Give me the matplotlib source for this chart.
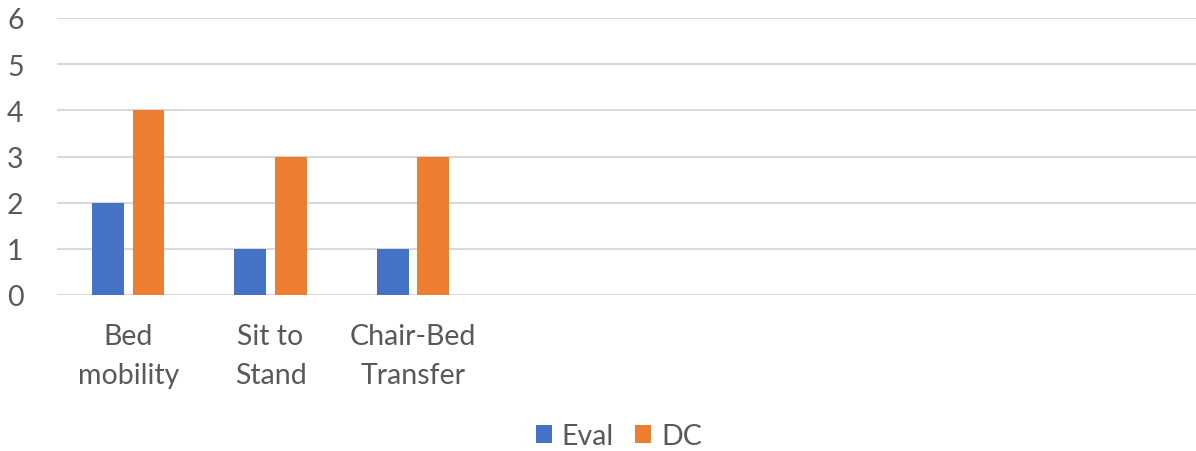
import matplotlib.pyplot as plt
import numpy as np

# данные графика
categories = ['Bed\nmobility', 'Sit to\nStand', 'Chair-Bed\nTransfer', '', '', '', '', '']
eval_vals = [2, 1, 1, 0, 0, 0, 0, 0]
dc_vals = [4, 3, 3, 0, 0, 0, 0, 0]

plt.rcParams['font.family'] = ['Lato', 'DejaVu Sans']
text_color = '#595959'

fig = plt.figure(figsize=(11.96, 4.52), dpi=100)
ax = fig.add_axes([57 / 1196, 1 - 296 / 452, 1 - 57 / 1196, 277 / 452])

x = np.arange(len(categories))
w = 0.224
ax.bar(x - 0.143, eval_vals, w, color='#4472C4', label='Eval', zorder=3)
ax.bar(x + 0.143, dc_vals, w, color='#ED7D31', label='DC', zorder=3)

ax.set_xlim(-0.5, len(categories) - 0.5)
ax.set_ylim(0, 6)
ax.set_yticks(range(0, 7))
ax.set_xticks(x)
ax.set_xticklabels(categories, linespacing=1.65)
ax.yaxis.grid(True, color='#d9d9d9', linewidth=1.5, zorder=0)
ax.tick_params(axis='both', length=0, labelsize=20.5, colors=text_color)
ax.tick_params(axis='x', pad=20)
ax.tick_params(axis='y', pad=30)
for lbl in ax.get_yticklabels():
    lbl.set_horizontalalignment('center')
for s in ax.spines.values():
    s.set_visible(False)
ax.axhline(0, color='#d9d9d9', linewidth=1.5, zorder=2)

leg = fig.legend(loc='center', bbox_to_anchor=(619 / 1196, 1 - 437 / 452), ncol=2,
                 frameon=False, fontsize=20.5, handlelength=0.55, handleheight=0.55,
                 handletextpad=0.35, columnspacing=0.75)
for t in leg.get_texts():
    t.set_color(text_color)

fig.savefig('out.png', dpi=100)
